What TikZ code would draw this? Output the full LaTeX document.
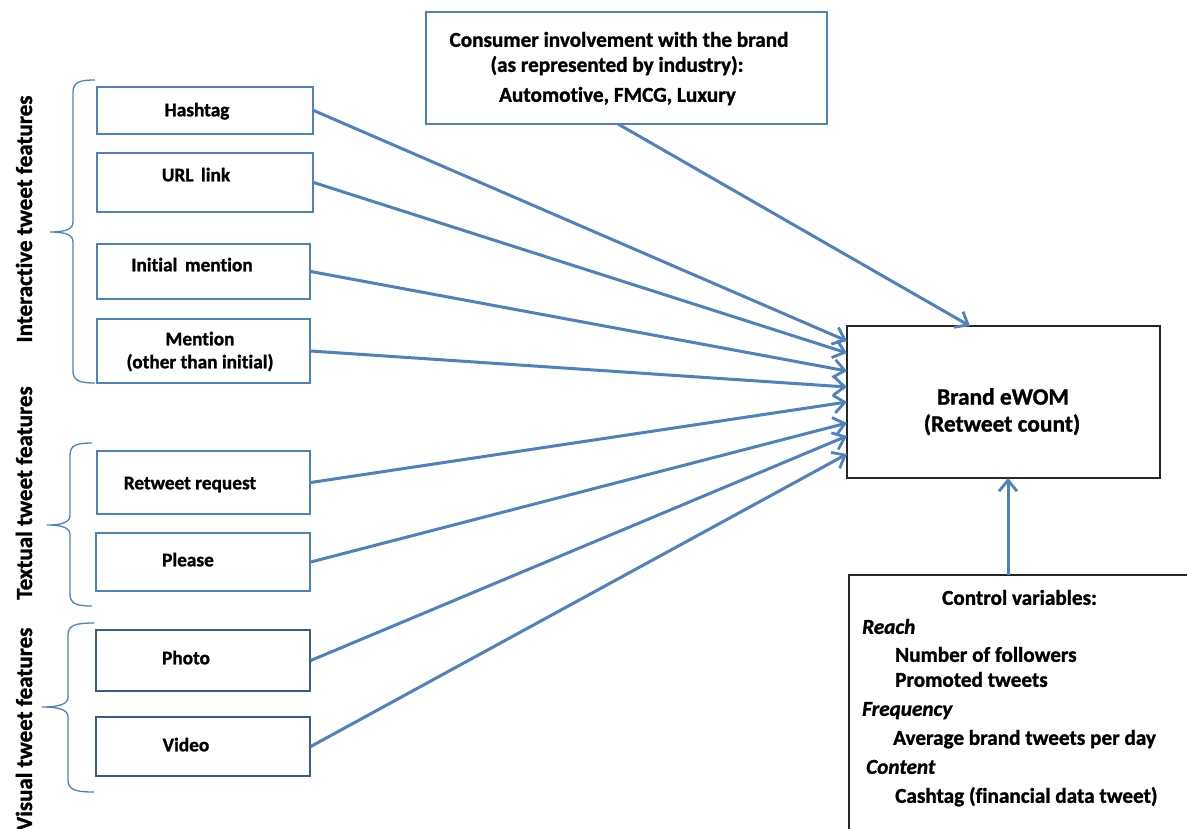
\documentclass[tikz,border=0pt]{standalone}
\usepackage{fontspec}
\setmainfont{Carlito}[Ligatures=NoCommon, BoldFeatures={FakeBold=1.2}, BoldItalicFeatures={FakeBold=1.2}]
\usetikzlibrary{arrows.meta}
\definecolor{obl}{HTML}{4F81BD}
\definecolor{dbl}{HTML}{385D8A}
\begin{document}
\begin{tikzpicture}[x=1pt,y=-1pt,
  fbox/.style={draw=obl, line width=1.4pt, inner sep=0pt},
  dbox/.style={fbox, draw=dbl},
  kbox/.style={draw=black!85, line width=1.4pt, inner sep=0pt},
  txt/.style={font=\bfseries\fontsize{19.3}{22}\selectfont, inner sep=0pt, anchor=base},
  mtxt/.style={font=\bfseries\fontsize{21.2}{24}\selectfont, inner sep=0pt, anchor=base},
  itxt/.style={font=\bfseries\itshape\fontsize{21.2}{24}\selectfont, inner sep=0pt, anchor=base west},
  ltxt/.style={font=\bfseries\fontsize{21.2}{24}\selectfont, inner sep=0pt, anchor=base west},
  btxt/.style={font=\bfseries\fontsize{23.4}{27}\selectfont, inner sep=0pt, anchor=base},
  vlab/.style={rotate=90, font=\bfseries\fontsize{23}{26}\selectfont, inner sep=0pt},
  conn/.style={draw=obl, line width=3pt, -{Straight Barb[length=11pt,width=18pt,line width=2.8pt]}},
  bracepath/.style={draw=obl, line width=1.3pt}]
\clip (0,0) rectangle (1187,828);
\fill[white] (0,0) rectangle (1187,828);

% left boxes
\node[fbox, minimum width=216pt, minimum height=47pt] (hash) at (205,110.5) {};
\node[fbox, minimum width=216pt, minimum height=59pt] (url) at (205,182.5) {};
\node[fbox, minimum width=213pt, minimum height=55pt] (init) at (203.5,271.5) {};
\node[fbox, minimum width=213pt, minimum height=64pt] (ment) at (203.5,351) {};
\node[fbox, minimum width=213pt, minimum height=63pt] (rt) at (203.5,482.5) {};
\node[fbox, minimum width=214pt, minimum height=58pt] (pls) at (203,562) {};
\node[dbox, minimum width=214pt, minimum height=61pt] (photo) at (203,660.5) {};
\node[dbox, minimum width=214pt, minimum height=59pt] (video) at (203,746.5) {};

\node[txt] (hashT) at (197,116.3) {Hashtag};
\node[txt] (urlT) at (196,181.3) {URL\, link};
\node[txt] (initT) at (192,271.3) {Initial\, mention};
\node[txt] (mentTa) at (200,345.3) {Mention};
\node[txt] (mentTb) at (200,368.3) {(other than initial)};
\node[txt] (rtT) at (190,489.3) {Retweet request};
\node[txt] (plsT) at (188,566.3) {Please};
\node[txt] (photoT) at (186,664.3) {Photo};
\node[txt] (videoT) at (186,751.3) {Video};

% top box
\node[fbox, minimum width=401pt, minimum height=112pt] (top) at (626.5,68) {};
\node[mtxt] (topTa) at (619,46.8) {Consumer involvement with the brand};
\node[mtxt] (topTb) at (617,71.8) {(as represented by industry):};
\node[mtxt] (topTc) at (617.5,101.8) {Automotive, FMCG, Luxury};

% brand box
\node[kbox, minimum width=313pt, minimum height=152pt] (brand) at (1003.5,402) {};
\node[btxt] (brandTa) at (1003,404.6) {Brand eWOM};
\node[btxt] (brandTb) at (1002,431.6) {(Retweet count)};

% control box
\node[kbox, minimum width=351pt, minimum height=265pt] (ctrl) at (1024.5,707.5) {};
\node[mtxt] (cT0) at (1019.5,604.8) {Control variables:};
\node[itxt] (cT1) at (862,633.8) {Reach};
\node[ltxt] (cT2) at (895,661.8) {Number of followers};
\node[ltxt] (cT3) at (895,686.8) {Promoted tweets};
\node[itxt] (cT4) at (862,715.8) {Frequency};
\node[ltxt] (cT5) at (893,744.8) {Average brand tweets per day};
\node[itxt] (cT6) at (866,773.8) {Content};
\node[ltxt] (cT7) at (895,802.8) {Cashtag (financial data tweet)};

% group labels
\node[vlab] (labI) at (24,219) {Interactive tweet features};
\node[vlab] (labT) at (24,493) {Textual tweet features};
\node[vlab] (labV) at (24,729) {Visual tweet features};

% braces
\draw[bracepath] (95,80) .. controls (80,80) and (73,82) .. (73,92) -- (73,222)
  .. controls (73,229) and (66,232) .. (50,232) .. controls (66,232) and (73,235) .. (73,242)
  -- (73,371) .. controls (73,381) and (80,383) .. (95,383);
\draw[bracepath] (92,443) .. controls (77,443) and (70,445) .. (70,455) -- (70,515)
  .. controls (70,522) and (63,525) .. (47,525) .. controls (63,525) and (70,528) .. (70,535)
  -- (70,594) .. controls (70,604) and (77,606) .. (92,606);
\draw[bracepath] (94,623) .. controls (76,623) and (68,625) .. (68,635) -- (68,697)
  .. controls (68,704) and (60,707) .. (42,707) .. controls (60,707) and (68,710) .. (68,717)
  -- (68,780) .. controls (68,790) and (76,792) .. (94,792);

% arrow end points
\coordinate (e1) at (847,341);
\coordinate (e2) at (847,353);
\coordinate (e3) at (847,371);
\coordinate (e4) at (847,387);
\coordinate (e5) at (847,402);
\coordinate (e6) at (847,423);
\coordinate (e7) at (847,436);
\coordinate (e8) at (847,454);
\coordinate (ts) at (618,124);
\coordinate (te) at (970,326);
\coordinate (cs) at (1008,575);
\coordinate (ce) at (1008,478);

\draw[conn] (hash.east) -- (e1);
\draw[conn] (url.east) -- (e2);
\draw[conn] (init.east) -- (e3);
\draw[conn] (ment.east) -- (e4);
\draw[conn] (rt.east) -- (e5);
\draw[conn] (pls.east) -- (e6);
\draw[conn] (photo.east) -- (e7);
\draw[conn] (video.east) -- (e8);
\draw[conn] (ts) -- (te);
\draw[conn] (cs) -- (ce);
\end{tikzpicture}
\end{document}
